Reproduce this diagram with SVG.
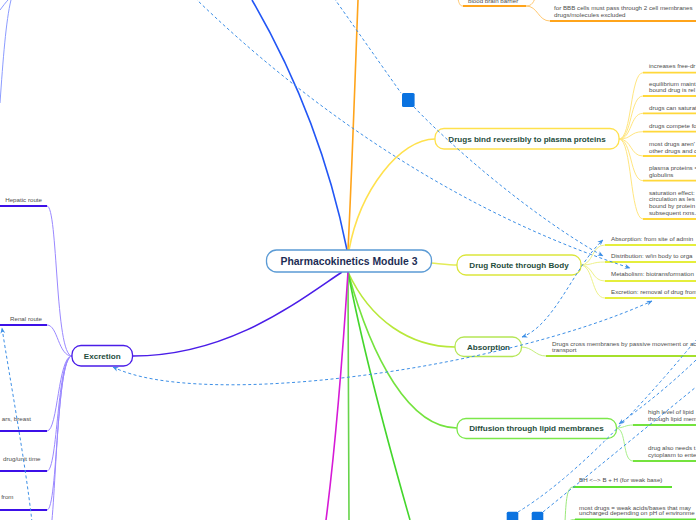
<svg xmlns="http://www.w3.org/2000/svg" width="696" height="520" viewBox="0 0 696 520">
<style>
.ct{font-family:"Liberation Sans",Arial,sans-serif;font-size:6.2px;fill:#4d4d4d}
.nt{font-family:"Liberation Sans",Arial,sans-serif;font-size:8.1px;font-weight:bold;fill:#1f4d3d;text-anchor:middle}
.mt{font-family:"Liberation Sans",Arial,sans-serif;font-size:10.4px;font-weight:bold;fill:#1d2d55;text-anchor:middle}
.box{fill:#fff;stroke-width:1.3}
.ul{fill:none;stroke-width:1.8}
.cv{fill:none;stroke-width:1}
.br{fill:none;stroke-width:1.6}
.rel{fill:none;stroke:#3d8fe6;stroke-width:1;stroke-dasharray:3 2.5}
.sq{fill:#0a72e0}
</style>
<defs>
<marker id="ah" viewBox="0 0 10 10" refX="9" refY="5" markerWidth="6" markerHeight="6" orient="auto-start-reverse" markerUnits="userSpaceOnUse">
<path d="M0,1 L10,5 L0,9 L3,5 z" fill="#3d8fe6"/>
</marker>
</defs>
<rect width="696" height="520" fill="#fff"/>

<g id="connectors">
<!-- main branches -->
<path class="br" stroke="#2256f5" d="M347,250 C335,190 310,100 252,0"/>
<path class="br" stroke="#ffa41b" d="M348,250 C352,170 355,80 358,0"/>
<path class="br" stroke="#ffe14d" d="M349,250 C360,190 400,139 435,139"/>
<path class="br" stroke="#e3ec58" d="M431,263 C442,264 450,265 457,265"/>
<path class="br" stroke="#b8e83a" d="M348,272 C370,320 410,347 455,347"/>
<path class="br" stroke="#74e33e" d="M348,272 C372,360 410,428 457,428"/>
<path class="br" stroke="#44d62c" d="M348,272 C365,360 390,450 410,520"/>
<path class="br" stroke="#66d44a" d="M348,272 C348,350 349,450 349,520"/>
<path class="br" stroke="#d61ad6" d="M348,272 C343,350 335,450 326,520"/>
<path class="br" stroke="#4a1de8" d="M133,356 C230,356 300,300 342,272"/>

<!-- BBB (orange) -->
<path class="cv" stroke="#ffc870" d="M457,-10 C458,4 460,6 463,6"/>
<path class="cv" stroke="#ffc870" d="M526,6 C532,6 534,2 536,-5"/>
<path class="cv" stroke="#ffc870" d="M526,6 C538,6 538,21 550,21"/>
<path class="ul" stroke="#ffa41b" d="M463,6 H526"/>
<path class="ul" stroke="#ffa41b" d="M550,21 H696"/>

<!-- Drugs bind children -->
<g class="cv" stroke="#ffe680">
<path d="M619,139 C632,139 630,72.7 643,72.7"/>
<path d="M619,139 C632,139 630,96 643,96"/>
<path d="M619,139 C632,139 630,113.3 643,113.3"/>
<path d="M619,139 C632,139 630,131.7 643,131.7"/>
<path d="M619,139 C632,139 630,156 643,156"/>
<path d="M619,139 C632,139 630,180.7 643,180.7"/>
<path d="M619,139 C632,139 630,219 643,219"/>
</g>
<g class="ul" stroke="#ffd83a">
<path d="M643,72.7 H696"/><path d="M643,96 H696"/><path d="M643,113.3 H696"/><path d="M643,131.7 H696"/>
<path d="M643,156 H696"/><path d="M643,180.7 H696"/><path d="M643,219 H696"/>
</g>

<!-- Drug Route children -->
<g class="cv" stroke="#eef28a">
<path d="M580,265 C594,265 591,245 605,245"/>
<path d="M580,265 C594,265 591,262 605,262"/>
<path d="M580,265 C594,265 591,281 605,281"/>
<path d="M580,265 C594,265 591,298 605,298"/>
</g>
<g class="ul" stroke="#e5ee3c">
<path d="M605,245 H696"/><path d="M605,262 H696"/><path d="M605,281 H696"/><path d="M605,298 H696"/>
</g>

<!-- Absorption child -->
<path class="cv" stroke="#c5ee7a" d="M521,347 C533,347 535,356 546,356"/>
<path class="ul" stroke="#a5e02c" d="M546,356 H696"/>

<!-- Diffusion children -->
<path class="cv" stroke="#a8f08a" d="M616,428 C624,428 625,425 633,425"/>
<path class="cv" stroke="#a8f08a" d="M616,428 C627,428 622,461 633,461"/>
<path class="ul" stroke="#74e33e" d="M633,425 H696"/>
<path class="ul" stroke="#74e33e" d="M633,461 H696"/>

<!-- lower green group -->
<path class="cv" stroke="#9be87a" d="M573,487 C567,487 566,500 565,522"/>
<path class="cv" stroke="#9be87a" d="M575,519.5 C570,519.5 569,521 568,523"/>
<path class="ul" stroke="#5fe030" d="M573,487 H672"/>
<path class="ul" stroke="#5fe030" d="M575,519.5 H696"/>

<!-- Excretion children -->
<g class="cv" stroke="#9a88ff">
<path d="M47,206 C58,206 55,356 72,356"/>
<path d="M47,325 C58,325 58,356 72,356"/>
<path d="M47,431 C58,431 58,356 72,356"/>
<path d="M47,471 C58,471 57,356 72,356"/>
<path d="M47,510 C58,510 56,356 72,356"/>
<path d="M49,540 C56,520 56,356 72,356"/>
</g>
<g class="ul" stroke="#3c10e8">
<path d="M0,206 H47"/><path d="M0,325 H47"/><path d="M0,431 H47"/><path d="M0,471 H47"/><path d="M0,510 H47"/>
</g>
<path class="cv" stroke="#8c9cff" d="M11,0 C6,20 3,60 0,103"/>
<path class="cv" stroke="#8c9cff" d="M0,10 C3,6 6,2 8,0"/>
</g>

<g id="node-center">
<rect class="box" stroke="#5b9bd5" x="266.5" y="250" width="165" height="22" rx="10"/>
<text class="mt" x="349" y="264.7">Pharmacokinetics Module 3</text>
</g>
<g id="node-bbb">
<text class="ct" x="468" y="2.9">blood brain barrier</text>
</g>
<g id="node-bbb-1">
<text class="ct" x="554" y="9.5">for BBB cells must pass through 2 cell membranes</text>
<text class="ct" x="554" y="16.5">drugs/molecules excluded</text>
</g>
<g id="node-bind">
<rect class="box" stroke="#ffe14d" x="435" y="128.5" width="184" height="20.5" rx="9"/>
<text class="nt" x="527" y="141.8">Drugs bind reversibly to plasma proteins</text>
</g>
<g id="bind-children">
<text class="ct" x="649" y="67.5">increases free-dr</text>
<text class="ct" x="649" y="85.5">equilibrium maint</text>
<text class="ct" x="649" y="91.8">bound drug is rel</text>
<text class="ct" x="649" y="109.5">drugs can saturat</text>
<text class="ct" x="649" y="128">drugs compete fo</text>
<text class="ct" x="649" y="146.3">most drugs aren'</text>
<text class="ct" x="649" y="152.6">other drugs and c</text>
<text class="ct" x="649" y="169.8">plasma proteins =</text>
<text class="ct" x="649" y="176.8">globulins</text>
<text class="ct" x="649" y="194.5">saturation effect:</text>
<text class="ct" x="649" y="201.4">circulation as les</text>
<text class="ct" x="649" y="208.2">bound by protein</text>
<text class="ct" x="649" y="215">subsequent rxns.</text>
</g>
<g id="node-route">
<rect class="box" stroke="#dbe63c" x="457" y="255" width="124" height="20" rx="9"/>
<text class="nt" x="519" y="267.8">Drug Route through Body</text>
</g>
<g id="route-children">
<text class="ct" x="611" y="241">Absorption: from site of admin</text>
<text class="ct" x="611" y="258">Distribution: w/in body to orga</text>
<text class="ct" x="611" y="276.3">Metabolism: biotransformation</text>
<text class="ct" x="611" y="294">Excretion: removal of drug from</text>
</g>
<g id="node-absorption">
<rect class="box" stroke="#b5e655" x="455" y="337" width="66.5" height="19.5" rx="9"/>
<text class="nt" x="488.5" y="349.6">Absorption</text>
</g>
<g id="absorption-child">
<text class="ct" x="552" y="345.5">Drugs cross membranes by passive movement or ac</text>
<text class="ct" x="552" y="352">transport</text>
</g>
<g id="node-diffusion">
<rect class="box" stroke="#7ce84a" x="457" y="418.5" width="159.5" height="20" rx="9"/>
<text class="nt" x="536.5" y="431.3">Diffusion through lipid membranes</text>
</g>
<g id="diffusion-children">
<text class="ct" x="648" y="413.8">high level of lipid</text>
<text class="ct" x="648" y="421">through lipid mem</text>
<text class="ct" x="648" y="449.8">drug also needs t</text>
<text class="ct" x="648" y="456.5">cytoplasm to ente</text>
</g>
<g id="green-children">
<text class="ct" x="579" y="482.2">BH &lt;--&gt; B + H (for weak base)</text>
<text class="ct" x="579" y="509.5">most drugs = weak acids/bases that may</text>
<text class="ct" x="579" y="515">uncharged depending on pH of environme</text>
</g>
<g id="node-excretion">
<rect class="box" stroke="#4a1de8" x="72" y="345.5" width="60.5" height="20.5" rx="9"/>
<text class="nt" x="102.2" y="358.7">Excretion</text>
</g>
<g id="excretion-children">
<text class="ct" x="42" y="202.2" text-anchor="end">Hepatic route</text>
<text class="ct" x="42" y="320.5" text-anchor="end">Renal route</text>
<text class="ct" x="31" y="420.5" text-anchor="end">ars, breast</text>
<text class="ct" x="40.5" y="460.5" text-anchor="end">drug/unit time</text>
<text class="ct" x="13.5" y="498.8" text-anchor="end">from</text>
</g>

<g id="relations">
<path class="rel" d="M195,-2 C300,100 450,210 630,268" marker-end="url(#ah)"/>
<path class="rel" d="M334,-2 L401,93"/>
<path class="rel" d="M414,107 C450,145 530,215 603,256" marker-end="url(#ah)"/>
<path class="rel" d="M522,337 C555,325 575,265 603,240" marker-start="url(#ah)" marker-end="url(#ah)"/>
<path class="rel" d="M113,367 C200,410 500,370 652,301" marker-start="url(#ah)" marker-end="url(#ah)"/>
<path class="rel" d="M32,522 C25,460 10,380 2,328" marker-end="url(#ah)"/>
<path class="rel" d="M518,512 Q590,468 696,340"/>
<path class="rel" d="M543,512 L696,387"/>
<path class="rel" d="M696,360 C670,385 645,405 619,424" marker-end="url(#ah)"/>
<rect class="sq" x="402" y="93" width="12.6" height="14" rx="1.5"/>
<rect class="sq" x="506.7" y="511.7" width="11.6" height="14" rx="1.5"/>
<rect class="sq" x="531.7" y="511.7" width="11.6" height="14" rx="1.5"/>
</g>
</svg>
